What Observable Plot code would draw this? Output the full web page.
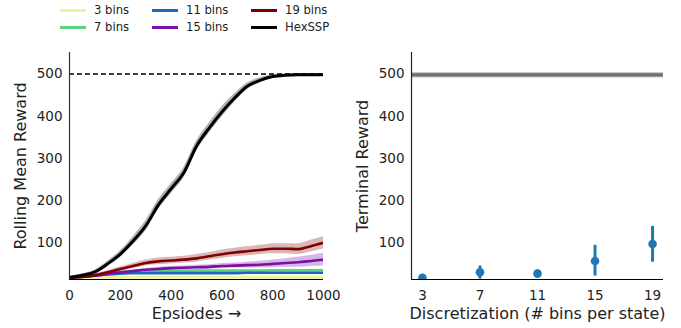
<!DOCTYPE html>
<html>
<head>
<meta charset="utf-8">
<script src="https://cdn.jsdelivr.net/npm/d3@7"></script>
<script src="https://cdn.jsdelivr.net/npm/@observablehq/plot@0.6"></script>
<style>
  body { margin: 0; background: #fff; font-family: "DejaVu Sans", sans-serif; }
  #wrap { position: relative; width: 681px; height: 328px; overflow: hidden; background: #fff; }
  #left { position: absolute; left: 0; top: 0; }
  #right { position: absolute; left: 340px; top: 0; }
  .item { position: absolute; display: flex; align-items: center; font-size: 11.6px; color: #222; white-space: nowrap; }
  .sw { width: 26px; height: 3px; margin-right: 8px; }
</style>
</head>
<body>
<div id="wrap">
  <div id="left"></div>
  <div id="right"></div>
  <div id="legend"></div>
</div>
<script>
// ---------- data ----------
const episodes = [0,50,100,150,200,250,300,350,400,450,500,550,600,650,700,750,800,850,900,950,1000];

const seriesNames  = ["3 bins", "7 bins", "11 bins", "15 bins", "19 bins", "HexSSP"];
const seriesColors = ["#eef397", "#5cd37f", "#2067b8", "#7a10a7", "#7e0000", "#000000"];
const bandColors   = ["#eef397", "#5cd37f", "#2067b8", "#7a10a7", "#7e0000", "#999999"];

const bins3  = [17,18,18,18,18,18,18,18,18,18,18,18,18,18,18,18,18,18,18,18,18];
const bins7  = [17,20,24,27,30,32,33,33,34,34,34,34,34,34,34,34,35,35,35,35,35];
const bins11 = [17,20,23,25,27,28,28,28,28,28,28,28,28,28,29,29,29,29,29,29,29];
const bins15 = [17,19,22,26,30,33,36,38,40,41,42,43,45,46,47,48,50,52,54,57,60];
const bins19 = [17,19,23,30,38,45,52,56,58,60,63,68,73,77,80,83,86,86,85,92,100];
const hexssp = [18,23,31,50,73,104,140,190,228,266,329,372,410,443,471,485,494,497,498,498,498];

const band3   = [1,1,1,1,1,1,1,1,1,1,1,1,1,1,1,1,1,1,1,1,1];
const band7   = [1,1,2,2,2,2,2,2,2,2,2,2,2,2,2,2,2,2,2,2,2];
const band11  = [1,1,1,2,2,2,2,2,2,2,2,2,2,2,2,2,2,2,2,2,2];
const band15  = [1,1,2,2,3,3,3,4,4,4,5,5,6,6,7,8,9,10,12,13,15];
const band19  = [1,2,3,4,5,6,7,8,8,8,9,9,10,10,11,11,12,12,13,14,15];
const bandHex = [2,3,4,6,8,10,12,12,12,12,12,12,12,10,8,6,4,3,3,3,3];

const maxReward = 500;

const binCounts    = [3, 7, 11, 15, 19];
const terminalMean = [17, 30, 27, 57, 97];
const terminalLo   = [15, 14, 19, 21, 54];
const terminalHi   = [19, 45, 35, 94, 139];
const hexTerminal  = 498;

const xTicksLeft  = [0, 200, 400, 600, 800, 1000];
const yTicks      = [100, 200, 300, 400, 500];
const xTicksRight = [3, 7, 11, 15, 19];

// ---------- build ----------
const seriesValues = [bins3, bins7, bins11, bins15, bins19, hexssp];
const seriesBands  = [band3, band7, band11, band15, band19, bandHex];
const bandOpacity  = [0.35, 0.3, 0.3, 0.3, 0.28, 0.75];
const lineWidths   = [2.6, 2.6, 2.6, 2.6, 2.6, 3];

const rows = seriesNames.map((name, i) =>
  episodes.map((e, j) => ({
    episode: e,
    value: seriesValues[i][j],
    lo: seriesValues[i][j] - seriesBands[i][j],
    hi: seriesValues[i][j] + seriesBands[i][j],
    series: name
  }))
);

const yDomain = [13, 551];
const W = 340, H = 328;
const fmt = d3.format("d");
const common = {
  height: H,
  marginTop: 52,
  marginBottom: 49,
  style: { fontFamily: "DejaVu Sans, sans-serif", fontSize: "13.5px", color: "#222", background: "#fff" }
};

const bandMarks = rows.map((r, i) =>
  Plot.areaY(r, { x: "episode", y1: "lo", y2: "hi", fill: bandColors[i], fillOpacity: bandOpacity[i], curve: "monotone-x", clip: true })
);
const lineMarks = rows.map((r, i) =>
  Plot.lineY(r, { x: "episode", y: "value", stroke: seriesColors[i], strokeWidth: lineWidths[i], curve: "monotone-x", clip: true })
);

const left = Plot.plot({
  ...common,
  width: W,
  marginLeft: 69,
  marginRight: 17,
  x: { domain: [episodes[0], episodes[episodes.length - 1]] },
  y: { domain: yDomain },
  marks: [
    ...bandMarks,
    Plot.ruleY([maxReward], { x1: episodes[0], x2: episodes[episodes.length - 1], stroke: "#000", strokeWidth: 1.5, strokeDasharray: "5,3" }),
    ...lineMarks,
    Plot.ruleX([episodes[0]], { stroke: "#333", strokeWidth: 1.2 }),
    Plot.ruleY([yDomain[0]], { stroke: "#000", strokeWidth: 1.2 }),
    Plot.axisX({ ticks: xTicksLeft, tickFormat: fmt, tickSize: 0, tickPadding: 11, label: null }),
    Plot.axisY({ ticks: yTicks, tickFormat: fmt, tickSize: 0, tickPadding: 7, label: null }),
    Plot.text(["Epsiodes →"], { frameAnchor: "bottom", lineAnchor: "middle", dy: 34, fontSize: 16 }),
    Plot.text(["Rolling Mean Reward"], { frameAnchor: "left", textAnchor: "middle", dx: -49, rotate: -90, fontSize: 16 })
  ]
});
document.getElementById("left").appendChild(left);

const termRows = binCounts.map((b, i) => ({ bins: b, mean: terminalMean[i], lo: terminalLo[i], hi: terminalHi[i] }));

const right = Plot.plot({
  ...common,
  width: 341,
  marginLeft: 71,
  marginRight: 18,
  x: { domain: [2.24, 19.76] },
  y: { domain: yDomain },
  marks: [
    Plot.ruleY([hexTerminal], { stroke: "#c8c8c8", strokeWidth: 5.5 }),
    Plot.ruleY([hexTerminal], { stroke: "#6e6e6e", strokeWidth: 3.2 }),
    Plot.ruleX(termRows, { x: "bins", y1: "lo", y2: "hi", stroke: "#1f77b4", strokeWidth: 3, clip: true }),
    Plot.dot(termRows, { x: "bins", y: "mean", r: 4.3, fill: "#1f77b4", stroke: "none", clip: true }),
    Plot.ruleX([2.24], { stroke: "#222", strokeWidth: 1.2 }),
    Plot.ruleY([yDomain[0]], { stroke: "#000", strokeWidth: 1.2 }),
    Plot.axisX({ ticks: xTicksRight, tickFormat: fmt, tickSize: 0, tickPadding: 11, label: null }),
    Plot.axisY({ ticks: yTicks, tickFormat: fmt, tickSize: 0, tickPadding: 7, label: null }),
    Plot.text(["Discretization (# bins per state)"], { frameAnchor: "bottom", lineAnchor: "middle", dy: 34, fontSize: 16 }),
    Plot.text(["Terminal Reward"], { frameAnchor: "left", textAnchor: "middle", dx: -49, rotate: -90, fontSize: 16 })
  ]
});
document.getElementById("right").appendChild(right);

// ---------- legend (3 columns, 2 rows, column-major) ----------
const legendCols = [60, 152, 251];
const legendRows = [10, 27];
const legend = document.getElementById("legend");
seriesNames.forEach((name, i) => {
  const col = Math.floor(i / 2), row = i % 2;
  const el = document.createElement("div");
  el.className = "item";
  el.style.left = legendCols[col] + "px";
  el.style.top = (legendRows[row] - 7) + "px";
  const sw = document.createElement("span");
  sw.className = "sw";
  sw.style.background = seriesColors[i];
  const tx = document.createElement("span");
  tx.textContent = name;
  el.appendChild(sw);
  el.appendChild(tx);
  legend.appendChild(el);
});
</script>
</body>
</html>
